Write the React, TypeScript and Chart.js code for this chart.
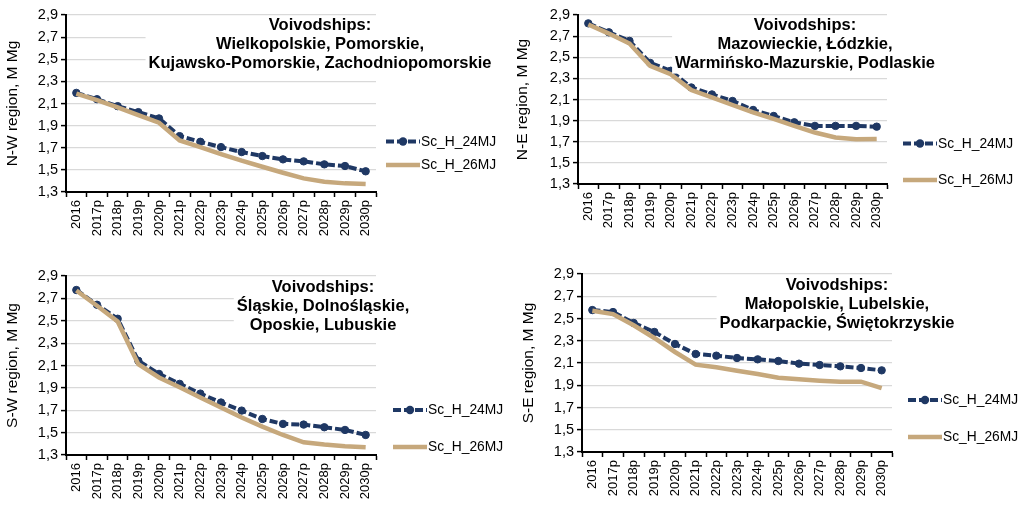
import React, { useEffect, useRef } from 'react';
import { Chart, registerables } from 'chart.js';

Chart.register(...registerables);

// ---------- DATA ----------
const categories = ['2016', '2017p', '2018p', '2019p', '2020p', '2021p', '2022p', '2023p', '2024p', '2025p', '2026p', '2027p', '2028p', '2029p', '2030p'];
const seriesNames = ['Sc_H_24MJ', 'Sc_H_26MJ'];

const nw24 = [2.196, 2.139, 2.076, 2.022, 1.965, 1.805, 1.754, 1.706, 1.661, 1.625, 1.595, 1.577, 1.55, 1.535, 1.487];
const nw26 = [2.19, 2.13, 2.064, 1.995, 1.926, 1.766, 1.706, 1.643, 1.583, 1.528, 1.474, 1.423, 1.393, 1.378, 1.372];
const ne24 = [2.821, 2.736, 2.655, 2.447, 2.372, 2.214, 2.148, 2.086, 2.001, 1.944, 1.884, 1.85, 1.85, 1.85, 1.843];
const ne26 = [2.81, 2.724, 2.63, 2.419, 2.34, 2.189, 2.12, 2.048, 1.979, 1.916, 1.85, 1.787, 1.74, 1.724, 1.727];
const sw24 = [2.775, 2.643, 2.518, 2.142, 2.025, 1.936, 1.849, 1.769, 1.697, 1.622, 1.578, 1.572, 1.548, 1.524, 1.479];
const sw26 = [2.77, 2.634, 2.494, 2.112, 1.993, 1.906, 1.814, 1.724, 1.635, 1.554, 1.479, 1.413, 1.393, 1.378, 1.369];
const se24 = [2.576, 2.558, 2.46, 2.379, 2.271, 2.181, 2.166, 2.145, 2.133, 2.118, 2.094, 2.082, 2.07, 2.055, 2.034];
const se26 = [2.57, 2.54, 2.439, 2.325, 2.199, 2.085, 2.061, 2.031, 2.001, 1.968, 1.953, 1.941, 1.932, 1.932, 1.875];

const yMin = 1.3;
const yMax = 2.9;
const yStep = 0.2;

const regionTitles = ['N-W region, M Mg', 'N-E region, M Mg', 'S-W region, M Mg', 'S-E region, M Mg'];
const nwVoivodships = ['Voivodships:', 'Wielkopolskie, Pomorskie,', 'Kujawsko-Pomorskie, Zachodniopomorskie'];
const neVoivodships = ['Voivodships:', 'Mazowieckie, Łódzkie,', 'Warmińsko-Mazurskie, Podlaskie'];
const swVoivodships = ['Voivodships:', 'Śląskie, Dolnośląskie,', 'Oposkie, Lubuskie'];
const seVoivodships = ['Voivodships:', 'Małopolskie, Lubelskie,', 'Podkarpackie, Świętokrzyskie'];

// ---------- STYLE / LAYOUT ----------
const FONT = "'Liberation Sans', Arial, sans-serif";
const NAVY = '#1F3864';
const TAN = '#C6A87C';
const GRID = '#D9D9D9';

type PanelDef = {
  x: number; y: number; w: number; h: number;
  area: { l: number; t: number; r: number; b: number };
  titlePad: number;
  textCx: number; textY: number;
  legendX: number; legendY: number[];
  axisTitle: string; lines: string[];
  s24: number[]; s26: number[];
};

const panels: PanelDef[] = [
  { x: 0, y: 0, w: 511, h: 252, area: { l: 66, t: 15, r: 376, b: 192 }, titlePad: 3.5, textCx: 320, textY: 25, legendX: 386, legendY: [141.5, 165], axisTitle: regionTitles[0], lines: nwVoivodships, s24: nw24, s26: nw26 },
  { x: 511, y: 0, w: 511, h: 252, area: { l: 67, t: 15, r: 376, b: 184 }, titlePad: 2.5, textCx: 294, textY: 25, legendX: 392, legendY: [143.5, 180], axisTitle: regionTitles[1], lines: neVoivodships, s24: ne24, s26: ne26 },
  { x: 0, y: 253, w: 511, h: 252, area: { l: 66, t: 23, r: 376, b: 202 }, titlePad: 3, textCx: 323, textY: 34, legendX: 393, legendY: [157, 194], axisTitle: regionTitles[2], lines: swVoivodships, s24: sw24, s26: sw26 },
  { x: 511, y: 253, w: 511, h: 252, area: { l: 71, t: 21, r: 381, b: 199 }, titlePad: 8, textCx: 326, textY: 32, legendX: 397, legendY: [147, 184], axisTitle: regionTitles[3], lines: seVoivodships, s24: se24, s26: se26 },
];

const X_AXIS_H = 50;
const LINE_GAP = 19.3;

function Panel({ p }: { p: PanelDef }) {
  const ref = useRef<HTMLCanvasElement | null>(null);

  useEffect(() => {
    const canvas = ref.current;
    if (!canvas) return;

    const overlay = {
      id: 'overlay',
      afterDraw(chart: any) {
        const ctx = chart.ctx as CanvasRenderingContext2D;
        ctx.save();
        // title box
        ctx.font = `bold 16.5px ${FONT}`;
        let minX = Infinity, maxX = -Infinity;
        p.lines.forEach((t) => {
          const w = ctx.measureText(t).width;
          minX = Math.min(minX, p.textCx - w / 2);
          maxX = Math.max(maxX, p.textCx + w / 2);
        });
        const top = p.textY - 9;
        const bottom = p.textY + LINE_GAP * (p.lines.length - 1) + 10;
        ctx.fillStyle = '#ffffff';
        ctx.fillRect(minX - 3, top, maxX - minX + 6, bottom - top);
        ctx.fillStyle = '#000000';
        ctx.textAlign = 'center';
        ctx.textBaseline = 'middle';
        p.lines.forEach((t, i) => ctx.fillText(t, p.textCx, p.textY + i * LINE_GAP));

        // legend
        chart.data.datasets.forEach((ds: any, i: number) => {
          const y = p.legendY[i];
          const x0 = p.legendX;
          const len = 34;
          ctx.strokeStyle = ds.borderColor;
          ctx.lineWidth = ds.borderWidth;
          ctx.lineCap = 'butt';
          ctx.setLineDash(ds.borderDash || []);
          ctx.beginPath();
          ctx.moveTo(x0, y);
          ctx.lineTo(x0 + len, y);
          ctx.stroke();
          ctx.setLineDash([]);
          if (ds.pointRadius > 0) {
            ctx.fillStyle = ds.pointBackgroundColor;
            ctx.beginPath();
            ctx.arc(x0 + len / 2, y, ds.pointRadius + 0.5, 0, Math.PI * 2);
            ctx.fill();
          }
          ctx.fillStyle = '#000000';
          ctx.font = `13.8px ${FONT}`;
          ctx.textAlign = 'left';
          ctx.textBaseline = 'middle';
          ctx.fillText(ds.label, x0 + len + 1, y + 0.5);
        });
        ctx.restore();
      },
    };

    const chart = new Chart(canvas, {
      type: 'line',
      data: {
        labels: categories,
        datasets: [
          {
            label: seriesNames[0],
            data: p.s24,
            borderColor: NAVY,
            backgroundColor: NAVY,
            borderWidth: 4,
            borderDash: [8, 3],
            borderCapStyle: 'butt',
            pointRadius: 3.7,
            pointBackgroundColor: NAVY,
            pointBorderColor: NAVY,
            pointBorderWidth: 1,
            tension: 0,
            order: 1,
          },
          {
            label: seriesNames[1],
            data: p.s26,
            borderColor: TAN,
            backgroundColor: TAN,
            borderWidth: 4.5,
            pointRadius: 0,
            tension: 0,
            order: 0,
          },
        ],
      },
      options: {
        responsive: false,
        animation: false,
        devicePixelRatio: 1,
        layout: {
          padding: {
            left: 0,
            top: p.area.t,
            right: p.w - p.area.r,
            bottom: p.h - p.area.b - X_AXIS_H,
          },
        },
        plugins: {
          legend: { display: false },
          tooltip: { enabled: false },
          title: { display: false },
        },
        scales: {
          x: {
            type: 'category',
            offset: true,
            grid: {
              display: true,
              drawOnChartArea: false,
              drawTicks: true,
              tickLength: 5,
              tickColor: '#000000',
              tickWidth: 1.5,
              offset: true,
            },
            border: { display: true, color: '#000000', width: 2 },
            ticks: {
              autoSkip: false,
              minRotation: 90,
              maxRotation: 90,
              padding: 3,
              color: '#000000',
              font: { family: FONT, size: 13 },
            },
            afterFit: (s: any) => { s.height = X_AXIS_H; },
          },
          y: {
            min: yMin,
            max: yMax,
            grid: {
              color: GRID,
              lineWidth: 1.2,
              drawTicks: true,
              tickLength: 5,
              tickColor: '#000000',
              tickWidth: 1.5,
            },
            border: { display: true, color: '#000000', width: 2 },
            ticks: {
              stepSize: yStep,
              padding: 3,
              color: '#000000',
              font: { family: FONT, size: 14.5 },
              callback: (v: any) => Number(v).toFixed(1).replace('.', ','),
            },
            title: {
              display: true,
              text: p.axisTitle,
              color: '#000000',
              font: { family: FONT, size: 15.5 },
              padding: { top: p.titlePad, bottom: 0 },
            },
            afterFit: (s: any) => { s.width = p.area.l; },
          },
        },
      },
      plugins: [overlay],
    } as any);

    return () => chart.destroy();
  }, [p]);

  return (
    <div style={{ position: 'absolute', left: p.x, top: p.y, width: p.w, height: p.h }}>
      <canvas ref={ref} width={p.w} height={p.h} style={{ display: 'block', width: p.w, height: p.h }} />
    </div>
  );
}

export default function App() {
  return (
    <div style={{ position: 'absolute', left: 0, top: 0, width: 1022, height: 505, background: '#ffffff', overflow: 'hidden' }}>
      {panels.map((p, i) => (
        <Panel key={i} p={p} />
      ))}
    </div>
  );
}
